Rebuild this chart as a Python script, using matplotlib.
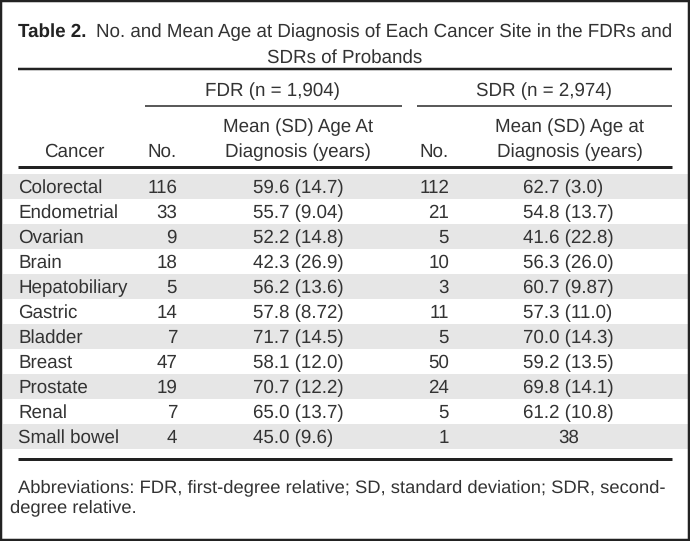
import matplotlib
matplotlib.use("Agg")
import matplotlib.pyplot as plt
from matplotlib.patches import Rectangle

# table data
cancers = ["Colorectal", "Endometrial", "Ovarian", "Brain", "Hepatobiliary",
           "Gastric", "Bladder", "Breast", "Prostate", "Renal", "Small bowel"]
fdr_n = [116, 33, 9, 18, 5, 14, 7, 47, 19, 7, 4]
fdr_age = ["59.6 (14.7)", "55.7 (9.04)", "52.2 (14.8)", "42.3 (26.9)", "56.2 (13.6)",
           "57.8 (8.72)", "71.7 (14.5)", "58.1 (12.0)", "70.7 (12.2)", "65.0 (13.7)",
           "45.0 (9.6)"]
sdr_n = [112, 21, 5, 10, 3, 11, 5, 50, 24, 5, 1]
sdr_age = ["62.7 (3.0)", "54.8 (13.7)", "41.6 (22.8)", "56.3 (26.0)", "60.7 (9.87)",
           "57.3 (11.0)", "70.0 (14.3)", "59.2 (13.5)", "69.8 (14.1)", "61.2 (10.8)",
           "38"]

title_bold = "Table 2."
title_1 = "No. and Mean Age at Diagnosis of Each Cancer Site in the FDRs and"
title_2 = "SDRs of Probands"
fdr_head = "FDR (n = 1,904)"
sdr_head = "SDR (n = 2,974)"
foot_1 = "Abbreviations: FDR, first-degree relative; SD, standard deviation; SDR, second-"
foot_2 = "degree relative."

plt.rcParams['font.family'] = ['Liberation Sans', 'DejaVu Sans']
plt.rcParams['text.hinting'] = 'no_hinting'
fs = 13.5
txt = '#333333'
band = '#e6e6e6'

fig = plt.figure(figsize=(6.9, 5.41), dpi=100)
ax = fig.add_axes([0, 0, 1, 1])
ax.set_xlim(0, 690)
ax.set_ylim(541, 0)
ax.axis('off')

def px(w):
    return w * 0.72

# frame
ax.add_patch(Rectangle((1.25, 1.25), 687.5, 538.5, fill=False,
                       edgecolor='#222222', lw=px(2.5)))

# title
ax.text(18, 37, title_bold, fontsize=fs, fontweight='bold', color='#222222',
        ha='left', va='baseline')
ax.text(672, 37, title_1, fontsize=fs, color=txt, ha='right', va='baseline')
ax.text(345, 63, title_2, fontsize=fs, color=txt, ha='center', va='baseline')

# rules
ax.plot([18, 672], [69, 69], color='#222222', lw=px(2.5), solid_capstyle='butt')
ax.plot([145, 402], [105.5, 105.5], color='#333333', lw=px(1.6), solid_capstyle='butt')
ax.plot([417, 672], [105.5, 105.5], color='#333333', lw=px(1.6), solid_capstyle='butt')
ax.plot([18, 672], [167, 167], color='#222222', lw=px(3), solid_capstyle='butt')

# header
ax.text(272, 96.5, fdr_head, fontsize=fs, color=txt, ha='center', va='baseline')
ax.text(544, 96.5, sdr_head, fontsize=fs, color=txt, ha='center', va='baseline')
ax.text(74, 157, "Cancer", fontsize=fs, color=txt, ha='center', va='baseline')
ax.text(177, 157, "No.", fontsize=fs, color=txt, ha='right', va='baseline')
ax.text(449, 157, "No.", fontsize=fs, color=txt, ha='right', va='baseline')
ax.text(298, 132.5, "Mean (SD) Age At", fontsize=fs, color=txt, ha='center', va='baseline')
ax.text(298, 157, "Diagnosis (years)", fontsize=fs, color=txt, ha='center', va='baseline')
ax.text(570, 132.5, "Mean (SD) Age at", fontsize=fs, color=txt, ha='center', va='baseline')
ax.text(570, 157, "Diagnosis (years)", fontsize=fs, color=txt, ha='center', va='baseline')

# body rows
row_top = 174
row_h = 25
for i, name in enumerate(cancers):
    top = row_top + i * row_h
    if i % 2 == 0:
        ax.add_patch(Rectangle((3, top), 685, row_h, facecolor=band,
                               edgecolor='none', zorder=0))
    base = top + 19.3
    ax.text(18, base, name, fontsize=fs, color=txt, ha='left', va='baseline')
    ax.text(177, base, str(fdr_n[i]), fontsize=fs, color=txt, ha='right', va='baseline')
    ax.text(253, base, fdr_age[i], fontsize=fs, color=txt, ha='left', va='baseline')
    ax.text(449, base, str(sdr_n[i]), fontsize=fs, color=txt, ha='right', va='baseline')
    if '(' in sdr_age[i]:
        ax.text(523, base, sdr_age[i], fontsize=fs, color=txt, ha='left', va='baseline')
    else:
        ax.text(569, base, sdr_age[i], fontsize=fs, color=txt, ha='center', va='baseline')

bottom = row_top + len(cancers) * row_h
ax.plot([18, 672], [bottom + 10, bottom + 10], color='#222222', lw=px(3),
        solid_capstyle='butt')

# footnote
ax.text(18, 492, foot_1, fontsize=13.2, color=txt, ha='left', va='baseline')
ax.text(10, 512, foot_2, fontsize=13.2, color=txt, ha='left', va='baseline')

fig.savefig("out.png", dpi=100)
